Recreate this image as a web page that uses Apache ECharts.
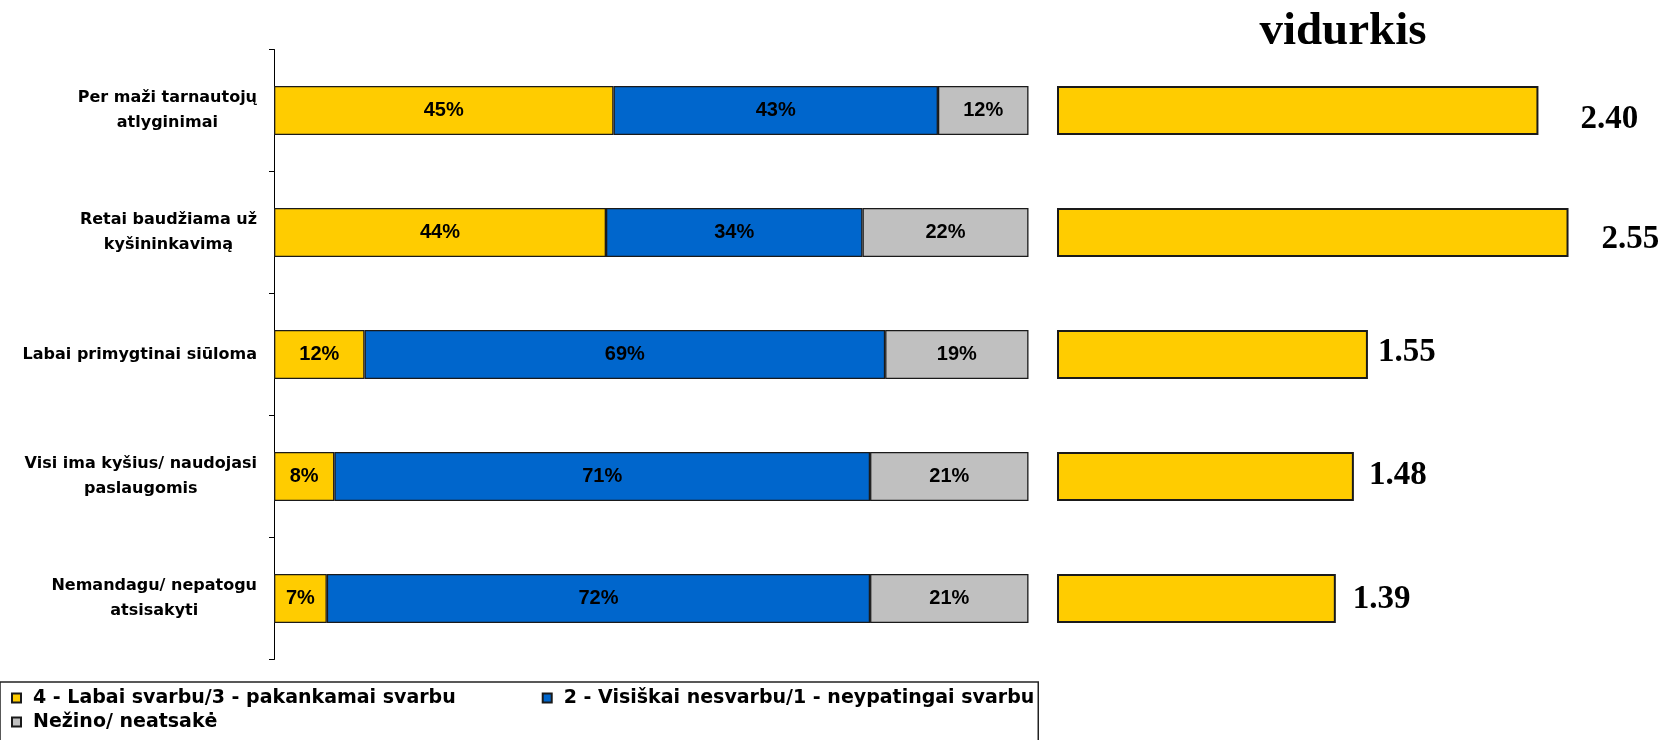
<!DOCTYPE html>
<html>
<head>
<meta charset="utf-8">
<script src="https://cdn.jsdelivr.net/npm/echarts@6/dist/echarts.min.js"></script>
<style>html,body{margin:0;padding:0;background:#fff}#c{width:1666px;height:740px}</style>
</head>
<body>
<div id="c"></div>
<script>
var categories = ['Per maži tarnautojų\natlyginimai', 'Retai baudžiama už\nkyšininkavimą', 'Labai primygtinai siūloma', 'Visi ima kyšius/ naudojasi\npaslaugomis', 'Nemandagu/ nepatogu\natsisakyti'];
var seriesNames = ['4 - Labai svarbu/3 - pakankamai svarbu', '2 - Visiškai nesvarbu/1 - neypatingai svarbu', 'Nežino/ neatsakė'];
var important = [45, 44, 12, 8, 7];
var notImportant = [43, 34, 69, 71, 72];
var dontKnow = [12, 22, 19, 21, 21];
var averages = [2.40, 2.55, 1.55, 1.48, 1.39];
var averageTitle = 'vidurkis';

// label placement tweaks for the average labels (style only)
var avgLabelOffsets = [[42, 9], [33, 7], [10, -2], [15, -1], [17, 1]];

var colors = ['#FFCC00', '#0066CC', '#C0C0C0'];
var chart = echarts.init(document.getElementById('c'), null, {renderer: 'canvas'});

function stackSeries(name, data, color) {
  return {
    name: name, type: 'bar', stack: 'a', xAxisIndex: 0, yAxisIndex: 0,
    data: data, barWidth: 49,
    itemStyle: {color: color, borderColor: '#1a1a1a', borderWidth: 1.3},
    label: {show: true, position: 'inside', formatter: '{c}%', color: '#000',
      fontFamily: 'Liberation Sans', fontWeight: 'bold', fontSize: 20},
    emphasis: {disabled: true}
  };
}

var avgData = averages.map(function (v, i) {
  return {value: v, label: {offset: avgLabelOffsets[i]}};
});

chart.setOption({
  animation: false,
  title: {
    text: averageTitle, left: 1338, top: 3, textAlign: 'center',
    textStyle: {fontFamily: 'Liberation Serif', fontWeight: 'bold', fontSize: 47, color: '#000'}
  },
  legend: [{
    data: seriesNames.slice(0, 2), left: 0, top: 682, orient: 'horizontal',
    padding: [6, 4, 60, 11], itemGap: 86, itemWidth: 9, itemHeight: 9, icon: 'rect',
    borderColor: '#222', borderWidth: 1.5, selectedMode: false,
    textStyle: {fontFamily: 'DejaVu Sans', fontWeight: 'bold', fontSize: 19, color: '#000', lineHeight: 20, padding: [0, 0, 0, 7]}
  }, {
    data: seriesNames.slice(2), left: 11, top: 712, padding: 0, itemWidth: 9, itemHeight: 9, icon: 'rect',
    selectedMode: false,
    textStyle: {fontFamily: 'DejaVu Sans', fontWeight: 'bold', fontSize: 19, color: '#000', lineHeight: 20, padding: [0, 0, 0, 7]}
  }],
  grid: [
    {left: 274, top: 49.5, width: 754.5, height: 610},
    {left: 1057, top: 49.5, width: 601.8, height: 610}
  ],
  xAxis: [
    {type: 'value', gridIndex: 0, min: 0, max: 100, show: false},
    {type: 'value', gridIndex: 1, min: 0, max: 3, show: false}
  ],
  yAxis: [
    {type: 'category', gridIndex: 0, data: categories, inverse: true,
      axisLine: {show: true, lineStyle: {color: '#000', width: 1}},
      axisTick: {show: true, length: 5, lineStyle: {color: '#000'}},
      splitLine: {show: false},
      axisLabel: {
        margin: 17, align: 'right',
        formatter: function (v) {
          return v.split('\n').map(function (s) { return '{c|' + s + '}'; }).join('\n');
        },
        rich: {c: {fontFamily: 'DejaVu Sans', fontWeight: 'bold', fontSize: 16, lineHeight: 25, color: '#000', align: 'center'}}
      }
    },
    {type: 'category', gridIndex: 1, data: categories, inverse: true, show: false}
  ],
  series: [
    stackSeries(seriesNames[0], important, colors[0]),
    stackSeries(seriesNames[1], notImportant, colors[1]),
    stackSeries(seriesNames[2], dontKnow, colors[2]),
    {
      name: averageTitle, type: 'bar', xAxisIndex: 1, yAxisIndex: 1, data: avgData, barWidth: 49,
      itemStyle: {color: '#FFCC00', borderColor: '#1a1a1a', borderWidth: 2},
      label: {show: true, position: 'right', distance: 0, color: '#000',
        formatter: function (p) { return p.value.toFixed(2); },
        fontFamily: 'Liberation Serif', fontWeight: 'bold', fontSize: 33},
      emphasis: {disabled: true}
    }
  ]
});
</script>
</body>
</html>
